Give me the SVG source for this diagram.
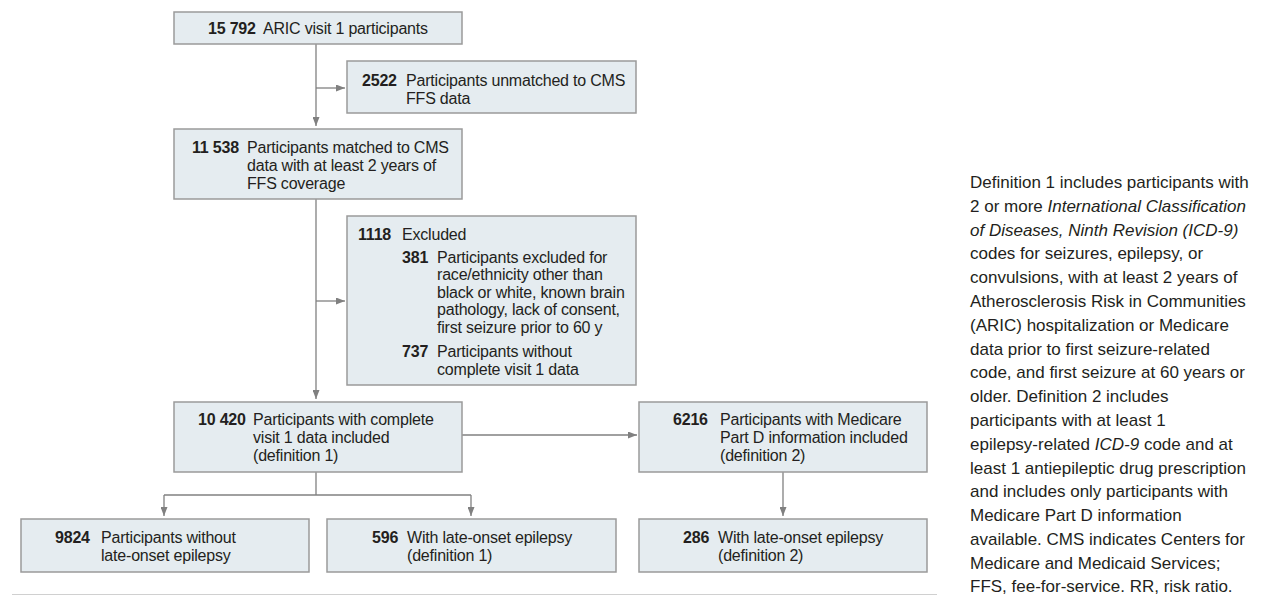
<svg xmlns="http://www.w3.org/2000/svg" width="1261" height="596" viewBox="0 0 1261 596">
<defs>
<style>
.box{fill:#e5ecf0;stroke:#9a9a9a;stroke-width:1.5}
.t{font-family:"Liberation Sans",Arial,sans-serif;font-size:16px;fill:#231f20;letter-spacing:-0.2px}
.b{font-weight:bold}
.c{fill:none;stroke:#808080;stroke-width:1.3}
.note{font-family:"Liberation Sans",Arial,sans-serif;font-size:17px;fill:#231f20}
.i{font-style:italic}
</style>
<marker id="ah" markerWidth="9" markerHeight="7" refX="9" refY="3.5" orient="auto" markerUnits="userSpaceOnUse">
<path d="M0,0 L9,3.5 L0,7 z" fill="#808080"/>
</marker>
</defs>
<rect width="1261" height="596" fill="#ffffff"/>
<g id="connectors">
<line class="c" x1="316" y1="44" x2="316" y2="126" marker-end="url(#ah)"/>
<line class="c" x1="316" y1="88" x2="345" y2="88" marker-end="url(#ah)"/>
<line class="c" x1="316" y1="199" x2="316" y2="399" marker-end="url(#ah)"/>
<line class="c" x1="316" y1="301" x2="345" y2="301" marker-end="url(#ah)"/>
<line class="c" x1="462" y1="435" x2="637" y2="435" marker-end="url(#ah)"/>
<line class="c" x1="316" y1="472" x2="316" y2="495"/>
<line class="c" x1="164" y1="495" x2="471" y2="495"/>
<line class="c" x1="164" y1="495" x2="164" y2="516" marker-end="url(#ah)"/>
<line class="c" x1="471" y1="495" x2="471" y2="516" marker-end="url(#ah)"/>
<line class="c" x1="783" y1="472" x2="783" y2="516" marker-end="url(#ah)"/>
</g>
<g id="n1">
<rect class="box" x="174" y="12" width="288" height="32"/>
<text class="t" y="34"><tspan class="b" x="208">15 792</tspan><tspan x="263">ARIC visit 1 participants</tspan></text>
</g>
<g id="n2">
<rect class="box" x="347" y="61" width="289" height="52"/>
<text class="t" y="85.5"><tspan class="b" x="362">2522</tspan><tspan x="406">Participants unmatched to CMS</tspan></text>
<text class="t" x="406" y="103.5">FFS data</text>
</g>
<g id="n3">
<rect class="box" x="174" y="129" width="288" height="70"/>
<text class="t" y="153"><tspan class="b" x="192">11 538</tspan><tspan x="247">Participants matched to CMS</tspan></text>
<text class="t" x="247" y="171">data with at least 2 years of</text>
<text class="t" x="247" y="189">FFS coverage</text>
</g>
<g id="n4">
<rect class="box" x="347" y="216" width="289" height="169"/>
<text class="t" y="240"><tspan class="b" x="358">1118</tspan><tspan x="402">Excluded</tspan></text>
<text class="t" y="262.5"><tspan class="b" x="402">381</tspan><tspan x="437">Participants excluded for</tspan></text>
<text class="t" x="437" y="280">race/ethnicity other than</text>
<text class="t" x="437" y="297.5">black or white, known brain</text>
<text class="t" x="437" y="315">pathology, lack of consent,</text>
<text class="t" x="437" y="332.5">first seizure prior to 60 y</text>
<text class="t" y="357"><tspan class="b" x="402">737</tspan><tspan x="437">Participants without</tspan></text>
<text class="t" x="437" y="374.5">complete visit 1 data</text>
</g>
<g id="n5">
<rect class="box" x="174" y="402" width="288" height="70"/>
<text class="t" y="425"><tspan class="b" x="198">10 420</tspan><tspan x="253">Participants with complete</tspan></text>
<text class="t" x="253" y="443">visit 1 data included</text>
<text class="t" x="253" y="461">(definition 1)</text>
</g>
<g id="n6">
<rect class="box" x="639" y="402" width="288" height="70"/>
<text class="t" y="425"><tspan class="b" x="673">6216</tspan><tspan x="720">Participants with Medicare</tspan></text>
<text class="t" x="720" y="443">Part D information included</text>
<text class="t" x="720" y="461">(definition 2)</text>
</g>
<g id="n7">
<rect class="box" x="21" y="519" width="288" height="53"/>
<text class="t" y="542.5"><tspan class="b" x="55">9824</tspan><tspan x="101">Participants without</tspan></text>
<text class="t" x="101" y="560.5">late-onset epilepsy</text>
</g>
<g id="n8">
<rect class="box" x="327" y="519" width="289" height="53"/>
<text class="t" y="542.5"><tspan class="b" x="372">596</tspan><tspan x="407">With late-onset epilepsy</tspan></text>
<text class="t" x="407" y="560.5">(definition 1)</text>
</g>
<g id="n9">
<rect class="box" x="639" y="519" width="288" height="53"/>
<text class="t" y="542.5"><tspan class="b" x="683">286</tspan><tspan x="718">With late-onset epilepsy</tspan></text>
<text class="t" x="718" y="560.5">(definition 2)</text>
</g>
<line x1="12" y1="594.5" x2="937" y2="594.5" stroke="#d0d0d0" stroke-width="1.2"/>
<g id="note">
<text class="note" x="970" y="188">Definition 1 includes participants with</text>
<text class="note" x="970" y="211.8">2 or more <tspan class="i">International Classification</tspan></text>
<text class="note i" x="970" y="235.6">of Diseases, Ninth Revision (ICD-9)</text>
<text class="note" x="970" y="259.4">codes for seizures, epilepsy, or</text>
<text class="note" x="970" y="283.2">convulsions, with at least 2 years of</text>
<text class="note" x="970" y="307">Atherosclerosis Risk in Communities</text>
<text class="note" x="970" y="330.8">(ARIC) hospitalization or Medicare</text>
<text class="note" x="970" y="354.6">data prior to first seizure-related</text>
<text class="note" x="970" y="378.4">code, and first seizure at 60 years or</text>
<text class="note" x="970" y="402.2">older. Definition 2 includes</text>
<text class="note" x="970" y="426">participants with at least 1</text>
<text class="note" x="970" y="449.8">epilepsy-related <tspan class="i">ICD-9</tspan> code and at</text>
<text class="note" x="970" y="473.6">least 1 antiepileptic drug prescription</text>
<text class="note" x="970" y="497.4">and includes only participants with</text>
<text class="note" x="970" y="521.2">Medicare Part D information</text>
<text class="note" x="970" y="545">available. CMS indicates Centers for</text>
<text class="note" x="970" y="568.8">Medicare and Medicaid Services;</text>
<text class="note" x="970" y="592">FFS, fee-for-service. RR, risk ratio.</text>
</g>
</svg>
